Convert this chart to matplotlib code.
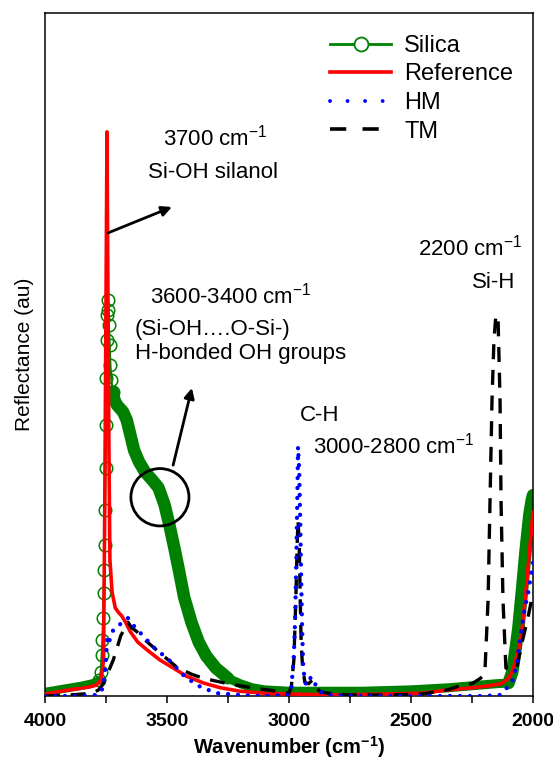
import matplotlib
matplotlib.use("Agg")
import matplotlib.pyplot as plt
from matplotlib.patches import Ellipse
from matplotlib.lines import Line2D

plt.rcParams['font.family'] = ['Liberation Sans', 'DejaVu Sans']
plt.rcParams['mathtext.fontset'] = 'custom'
plt.rcParams['mathtext.rm'] = 'Liberation Sans'
plt.rcParams['mathtext.default'] = 'regular'

# Silica (open circles, dense)
silica_wn = [4000, 3950, 3900, 3850, 3800, 3780, 3772, 3768, 3765, 3762, 3760, 3758, 3756,
             3754, 3752, 3750, 3748, 3746, 3744, 3742, 3740, 3738, 3735, 3732, 3728, 3722,
             3715, 3705, 3695, 3680, 3665, 3650, 3635, 3615, 3590, 3560, 3535, 3510, 3490,
             3470, 3450, 3430, 3400, 3370, 3340, 3300, 3250, 3200, 3150, 3100, 3000, 2900,
             2700, 2500, 2350, 2250, 2150, 2100, 2085, 2072, 2060, 2045, 2030, 2015, 2005, 2000]
silica_y = [0.6, 0.9, 1.2, 1.5, 1.9, 2.3, 3.5, 6.0, 8.2, 11.4, 15.1, 18.4, 22.1,
            27.2, 33.4, 39.7, 46.6, 52.1, 55.8, 58.0, 56.5, 54.3, 51.4, 48.5, 46.3, 44.5,
            43.3, 42.6, 42.2, 41.6, 40.4, 38.2, 36.0, 34.3, 32.8, 31.6, 30.5, 28.0, 25.0,
            21.7, 18.2, 14.5, 10.8, 7.9, 5.9, 4.1, 2.6, 1.8, 1.2, 0.9, 0.7, 0.7,
            0.7, 0.9, 1.2, 1.5, 1.8, 1.9, 3.5, 6.7, 9.9, 15.5, 21.4, 26.5, 28.7, 29.4]

# Reference
ref_wn = [4000, 3900, 3820, 3790, 3770, 3760, 3755, 3750, 3746, 3742, 3738, 3734, 3725,
          3712, 3700, 3685, 3670, 3650, 3620, 3580, 3530, 3470, 3420, 3350, 3280, 3200,
          3100, 3000, 2800, 2600, 2450, 2350, 2250, 2180, 2130, 2100, 2082, 2060, 2045,
          2030, 2020, 2010, 2000]
ref_y = [0.3, 0.9, 1.3, 1.6, 2.3, 5.3, 28.7, 58.0, 82.6, 58.0, 36.0, 19.9, 15.2,
         12.9, 12.3, 11.7, 10.8, 9.4, 7.9, 6.7, 5.3, 4.0, 2.9, 1.9, 1.2, 0.7,
         0.4, 0.3, 0.15, 0.3, 0.4, 0.9, 1.2, 1.5, 1.8, 2.6, 3.8, 6.7, 9.7,
         14.8, 18.9, 22.8, 26.9]

# HM
hm_wn = [4000, 3857, 3790, 3770, 3760, 3752, 3748, 3745, 3742, 3720, 3705, 3685, 3660,
         3630, 3600, 3557, 3492, 3426, 3357, 3291, 3200, 3100, 3000, 2990, 2980, 2975,
         2970, 2966, 2963, 2958, 2954, 2950, 2946, 2942, 2935, 2925, 2910, 2900, 2885,
         2870, 2840, 2700, 2400, 2200, 2135, 2086, 2066, 2053, 2037, 2020, 2000]
hm_y = [0, 0, 0.15, 0.6, 1.6, 4.5, 6.7, 8.2, 7.5, 9.7, 10.0, 10.8, 11.4,
        10.0, 8.9, 7.2, 5.3, 2.8, 1.2, 0.4, 0.15, 0, 0.15, 1.2, 6.0, 11.1,
        19.9, 28.7, 36.5, 33.1, 25.8, 17.0, 9.7, 4.5, 2.0, 1.6, 2.8, 2.3, 1.2,
        0.6, 0.15, 0, 0, 0, 0.15, 2.0, 4.8, 8.2, 12.2, 15.1, 19.5]

# TM
tm_wn = [4000, 3900, 3807, 3780, 3760, 3742, 3720, 3705, 3690, 3672, 3660, 3645, 3623,
         3590, 3529, 3459, 3400, 3352, 3250, 3150, 3050, 3000, 2990, 2980, 2972, 2966,
         2963, 2958, 2954, 2950, 2944, 2935, 2920, 2905, 2890, 2870, 2820, 2750, 2600,
         2450, 2350, 2300, 2250, 2215, 2197, 2184, 2176, 2168, 2160, 2152, 2143, 2135,
         2131, 2123, 2111, 2090, 2066, 2045, 2020, 2000]
tm_y = [0, 0.15, 0.4, 0.9, 1.9, 3.4, 5.3, 7.0, 8.8, 10.0, 10.8, 10.0, 9.4,
        8.2, 6.3, 4.2, 3.2, 2.6, 1.8, 1.2, 0.7, 0.4, 1.5, 5.3, 14.1, 22.8,
        25.8, 22.1, 14.1, 7.5, 4.1, 2.0, 1.8, 2.3, 1.2, 0.6, 0.3, 0.15, 0.15,
        0.3, 0.9, 1.5, 1.8, 2.6, 3.5, 14.1, 28.7, 43.3, 52.1, 55.8, 55.1, 43.3,
        28.7, 14.1, 4.1, 3.8, 4.2, 7.8, 11.6, 15.1]

ticks = [4000, 3500, 3000, 2500, 2000]

green = '#008000'

fig = plt.figure(figsize=(5.53, 7.61), dpi=100)
ax = fig.add_axes([0.0814, 0.0854, 0.8824, 0.8975])

# where the circles overlap completely the silica trace looks like a solid band
i_a = silica_wn.index(3780)
i_b = silica_wn.index(3722)
i_c = silica_wn.index(3250)
i_d = silica_wn.index(2100)
band = dict(color=green, solid_capstyle='round', solid_joinstyle='round', zorder=1)
ax.plot(silica_wn[:i_a + 1], silica_y[:i_a + 1], lw=6, **band)
ax.plot(silica_wn[i_b:i_c + 1], silica_y[i_b:i_c + 1], lw=9, **band)
ax.plot(silica_wn[i_c:i_d + 1], silica_y[i_c:i_d + 1], lw=6.5, **band)
ax.plot(silica_wn[i_d:], silica_y[i_d:], lw=9, **band)
ax.plot(silica_wn, silica_y, color=green, lw=1.5, marker='o', ms=9, mfc='none',
        mec=green, mew=1.1, markevery=slice(i_a, i_b + 1), zorder=2)
ax.plot(ref_wn, ref_y, color='red', lw=2.6, zorder=3)
ax.plot(tm_wn, tm_y, color='black', lw=2.4, ls=(0, (4.5, 3.2)), zorder=4)
ax.plot(hm_wn, hm_y, color='blue', lw=3.1, ls=(0, (0.01, 2.3)),
        dash_capstyle='round', zorder=5)

ax.set_xlim(4000, 2000)
ax.set_ylim(0, 100)
ax.set_xticks(ticks)
ax.set_xticks([3750, 3250, 2750, 2250], minor=True)
ax.set_yticks([])
ax.tick_params(axis='x', which='both', direction='out', length=5, width=1.1)
ax.tick_params(axis='x', which='major', pad=7)
for lab in ax.get_xticklabels():
    lab.set_fontweight('bold')
    lab.set_fontsize(14)
for sp in ax.spines.values():
    sp.set_linewidth(1.1)

ax.set_xlabel('Wavenumber (cm$^{-1}$)', fontsize=14.5, fontweight='bold', labelpad=3)
ax.set_ylabel('Reflectance (au)', fontsize=15, labelpad=8)

# annotations
fs = 16
ax.text(3516, 81.8, '3700 cm$^{-1}$', fontsize=fs, ha='left', va='center')
ax.text(3578, 76.7, 'Si-OH silanol', fontsize=fs, ha='left', va='center')
ax.text(3570, 58.7, '3600-3400 cm$^{-1}$', fontsize=fs, ha='left', va='center')
ax.text(3631, 53.6, '(Si-OH\u2026.O-Si-)', fontsize=fs, ha='left', va='center')
ax.text(3631, 50.2, 'H-bonded OH groups', fontsize=fs, ha='left', va='center')
ax.text(2955, 41.1, 'C-H', fontsize=fs, ha='left', va='center')
ax.text(2902, 36.7, '3000-2800 cm$^{-1}$', fontsize=fs, ha='left', va='center')
ax.text(2471, 65.6, '2200 cm$^{-1}$', fontsize=fs, ha='left', va='center')
ax.text(2250, 60.6, 'Si-H', fontsize=fs, ha='left', va='center')

arrow = dict(arrowstyle='-|>', lw=2, color='black', mutation_scale=15, shrinkA=0, shrinkB=0)
ax.annotate('', xy=(3480, 71.6), xytext=(3742, 67.8), arrowprops=arrow)
ax.annotate('', xy=(3398, 45.1), xytext=(3475, 33.8), arrowprops=arrow)
ax.add_patch(Ellipse((3529, 29.1), width=238, height=8.4, fill=False, lw=2,
                     color='black', zorder=6))

handles = [
    Line2D([], [], color=green, lw=2, marker='o', ms=10, mfc='white', mec=green, mew=1.3),
    Line2D([], [], color='red', lw=2.6),
    Line2D([], [], color='blue', lw=2.8, ls=(0, (0.01, 4.5)), dash_capstyle='round'),
    Line2D([], [], color='black', lw=2.6, ls=(0, (4.5, 4.5))),
]
ax.legend(handles, ['Silica', 'Reference', 'HM', 'TM'], loc='upper left',
          bbox_to_anchor=(0.584, 0.968), frameon=False, fontsize=17,
          handlelength=2.6, handletextpad=0.55, labelspacing=0.28,
          borderaxespad=0, borderpad=0)

fig.savefig('out.png', dpi=100)
